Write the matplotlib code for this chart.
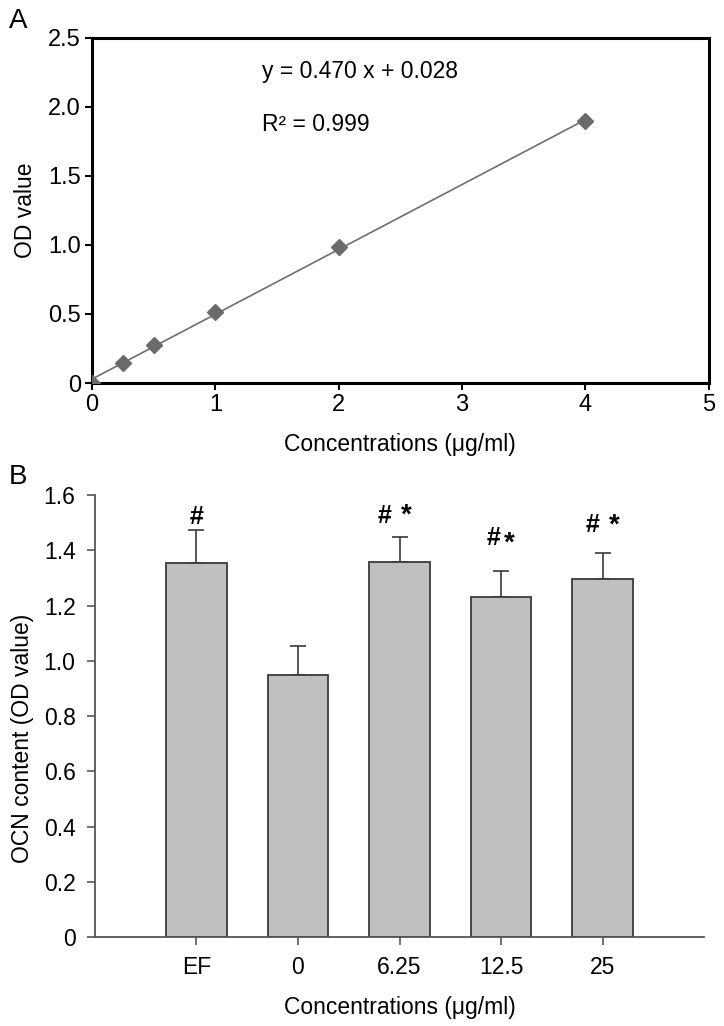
import matplotlib
matplotlib.use("Agg")
import matplotlib.pyplot as plt
import numpy as np

# panel A: standard curve
conc = [0, 0.25, 0.5, 1, 2, 4]
od = [0.0, 0.142, 0.274, 0.518, 0.985, 1.90]
slope = 0.470
intercept = 0.028
r2 = 0.999

# panel B: OCN content
groups = ["EF", "0", "6.25", "12.5", "25"]
ocn_mean = [1.355, 0.948, 1.359, 1.230, 1.295]
ocn_err = [0.120, 0.104, 0.090, 0.096, 0.096]
hash_y = [1.52, None, 1.525, 1.445, 1.49]
star_y = [None, None, 1.525, 1.425, 1.49]

# horizontal offsets of the # and * marks (category units)
hash_dx = [0, 0, -0.15, -0.07, -0.10]
star_dx = [0, 0, 0.07, 0.08, 0.12]

plt.rcParams["font.family"] = ["Liberation Sans", "DejaVu Sans"]

fig = plt.figure(figsize=(7.24, 10.26), dpi=100)

# ---- A ----
ax = fig.add_axes([0.127, 0.6267, 0.852, 0.3363])
x_line = np.array([0, 4])
ax.plot(x_line, slope * x_line + intercept, color="#6e6e6e", lw=1.2, zorder=2)
ax.plot(conc, od, ls="none", marker="D", ms=8.5, color="#6a6a6a", zorder=3)
ax.set_xlim(0, 5)
ax.set_ylim(0, 2.5)
ax.set_xticks(range(6))
ax.set_yticks([0, 0.5, 1.0, 1.5, 2.0, 2.5])
ax.set_yticklabels(["0", "0.5", "1.0", "1.5", "2.0", "2.5"])
for s in ax.spines.values():
    s.set_linewidth(2.2)
    s.set_color("black")
ax.tick_params(direction="out", length=5, width=1.5, labelsize=17, pad=3)
ax.set_xlabel("Concentrations (\u03bcg/ml)", fontsize=16.5, labelpad=12)
ax.set_ylabel("OD value", fontsize=16.5, labelpad=8)
ax.text(1.38, 2.255, "y = 0.470 x + 0.028", fontsize=16.5, va="center")
ax.text(1.38, 1.875, "R\u00b2 = 0.999", fontsize=16.5, va="center")
fig.text(0.012, 0.98, "A", fontsize=20, va="center")

# ---- B ----
bx = fig.add_axes([0.1312, 0.0867, 0.8412, 0.4308])
pos = np.arange(len(groups))
bx.bar(pos, ocn_mean, width=0.6, color="#c0c0c0", edgecolor="#3a3a3a", linewidth=1.3, zorder=2)
bx.errorbar(pos, ocn_mean, yerr=[np.zeros(len(groups)), ocn_err], fmt="none",
            ecolor="#3a3a3a", elinewidth=1.2, capsize=6, capthick=1.2, zorder=1)
for i in range(len(groups)):
    if hash_y[i] is not None:
        bx.text(pos[i] + hash_dx[i], hash_y[i], "#", ha="center", va="center", fontsize=18, fontweight="bold")
    if star_y[i] is not None:
        bx.text(pos[i] + star_dx[i], star_y[i], "*", ha="center", va="center", fontsize=20, fontweight="bold")
bx.set_xlim(-1, 5)
bx.set_ylim(0, 1.6)
bx.set_xticks(pos)
bx.set_xticklabels(groups, fontsize=16.5)
bx.set_yticks(np.arange(0, 1.61, 0.2))
bx.set_yticklabels(["0", "0.2", "0.4", "0.6", "0.8", "1.0", "1.2", "1.4", "1.6"], fontsize=16.5)
for side in ["top", "right"]:
    bx.spines[side].set_visible(False)
for side in ["left", "bottom"]:
    bx.spines[side].set_linewidth(1.3)
    bx.spines[side].set_color("#555555")
bx.tick_params(direction="out", length=6, width=1.2, color="#555555", pad=8)
bx.set_xlabel("Concentrations (\u03bcg/ml)", fontsize=16.5, labelpad=12)
bx.set_ylabel("OCN content (OD value)", fontsize=16.5)
bx.yaxis.set_label_coords(-0.1, 0.45)
fig.text(0.012, 0.535, "B", fontsize=20, va="center")

fig.savefig("out.png", dpi=100)
